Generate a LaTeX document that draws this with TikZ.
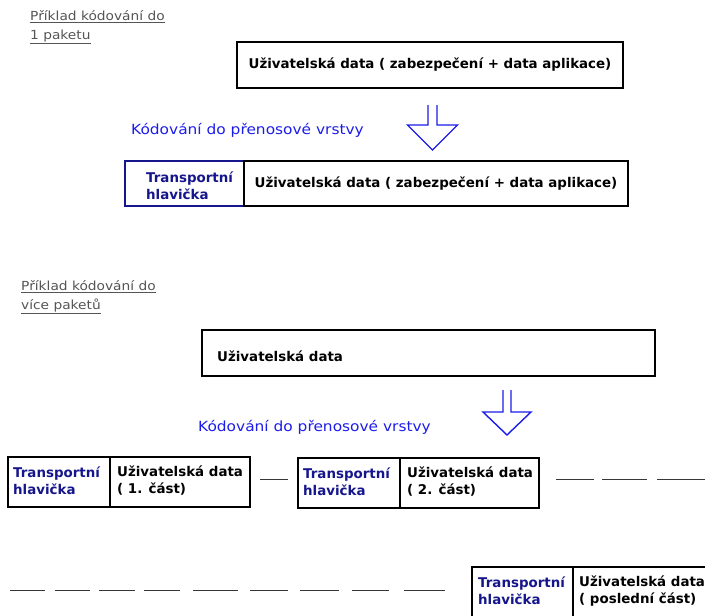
\documentclass[tikz,border=0pt]{standalone}
\usepackage{fontspec}
\setmainfont{DejaVu Sans}
\newfontfamily\widefont[FakeStretch=1.1]{DejaVu Sans}
\usetikzlibrary{calc}
\definecolor{navy}{RGB}{22,22,140}
\definecolor{lblue}{RGB}{28,28,235}
\definecolor{hgrey}{RGB}{85,85,85}
\definecolor{dashgrey}{RGB}{55,55,55}
\begin{document}
\begin{tikzpicture}[x=1pt,y=-1pt,
  pbox/.style={draw=black, line width=1.8pt, fill=white, inner sep=0pt,
    font=\fontsize{13.4}{17}\selectfont\bfseries},
  hbox/.style={draw=navy, line width=1.8pt, fill=white, inner sep=0pt},
  btxt/.style={font=\fontsize{13.4}{17}\selectfont\bfseries, align=left, inner sep=0pt, anchor=west},
  htxt/.style={btxt, text=navy},
  lbl/.style={font=\widefont\fontsize{14}{17}\selectfont, text=lblue, inner sep=0pt},
  head/.style={font=\widefont\fontsize{12.5}{18.5}\selectfont, text=hgrey, inner sep=0pt, anchor=base west},
  arr/.style={draw=lblue, line width=1.4pt, line join=miter},
  dashseg/.style={draw=dashgrey, line width=0.9pt}]
\useasboundingbox (0,0) rectangle (705,616);
\clip (0,0) rectangle (705,616);
\fill[white] (0,0) rectangle (705,616);

% ---------- section 1 ----------
\node[head] (h1a) at (30,20.5) {\underline{Příklad kódování do}};
\node[head] (h1b) at (30,39) {\underline{1 paketu}};
\node[pbox, minimum width=386pt, minimum height=46pt] (ud1) at (430,65)
  {Uživatelská data ( zabezpečení + data aplikace)};

\draw[arr] (428,105) -- (428,125) -- (407.5,125) -- (432.5,150) -- (457.5,125) -- (437,125) -- (437,105);
\node[lbl] (k1) at (247.5,130) {Kódování do přenosové vrstvy};

\node[hbox, minimum width=119pt, minimum height=45pt] (th1) at (184.5,183.5) {};
\node[pbox, minimum width=384pt, minimum height=45pt] (ud2) at (436,183.5)
  {Uživatelská data ( zabezpečení + data aplikace)};
\node[htxt] (th1t) at (146,185.5) {Transportní\\hlavička};

% ---------- section 2 ----------
\node[head] (h2a) at (21,290.5) {\underline{Příklad kódování do}};
\node[head] (h2b) at (21,309) {\underline{více paketů}};
\node[pbox, minimum width=453pt, minimum height=46pt] (ud3) at (428.5,353) {};
\node[btxt] (ud3t) at (217,356) {Uživatelská data};

\draw[arr] (503,390) -- (503,412) -- (483,412) -- (507,435) -- (531,412) -- (511,412) -- (511,390);
\node[lbl] (k2) at (314.5,427) {Kódování do přenosové vrstvy};

% packet 1
\node[pbox, minimum width=102pt, minimum height=50pt] (ta) at (59,482) {};
\node[pbox, minimum width=140pt, minimum height=50pt] (da) at (180,482) {};
\node[htxt] (tat) at (13,480.5) {Transportní\\hlavička};
\node[btxt] (dat) at (117,480.5) {Uživatelská data\\( 1. část)};

% packet 2
\node[pbox, minimum width=102pt, minimum height=50pt] (tb) at (349,483) {};
\node[pbox, minimum width=139pt, minimum height=50pt] (db) at (469.5,483) {};
\node[htxt] (tbt) at (303,481.5) {Transportní\\hlavička};
\node[btxt] (dbt) at (407,481.5) {Uživatelská data\\( 2. část)};

% last packet
\node[pbox, minimum width=101pt, minimum height=50pt] (tc) at (522.5,592) {};
\node[pbox, minimum width=147pt, minimum height=50pt] (dc) at (646.5,592) {};
\node[htxt] (tct) at (478,591) {Transportní\\hlavička};
\node[btxt] (dct) at (579,591) {Uživatelská data\\( poslední část)};

% dashes
\foreach \a/\b in {260/288, 556/594, 602/647, 657/705}
  \draw[dashseg] (\a,479) -- (\b,479);
\foreach \a/\b in {10/45, 55/90, 99/135, 144/180, 193/238, 250/288, 300/339, 352/389, 404/445}
  \draw[dashseg] (\a,590) -- (\b,590);
\end{tikzpicture}
\end{document}
